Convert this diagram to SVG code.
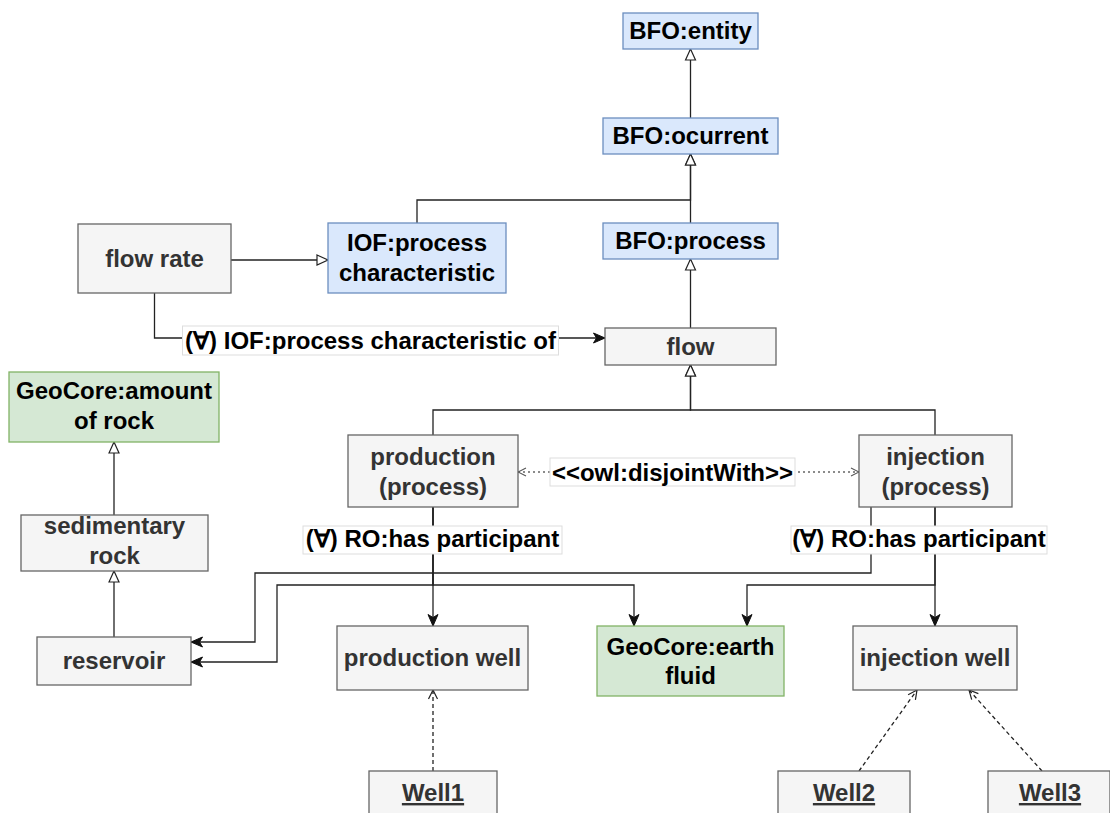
<svg xmlns="http://www.w3.org/2000/svg" width="1110" height="813" viewBox="0 0 1110 813">
<defs>
<style>
text{font-family:"Liberation Sans",Arial,Helvetica,sans-serif;font-weight:bold;font-size:24px;text-anchor:middle}
.blue{fill:#dae8fc;stroke:#6c8ebf;stroke-width:1.3}
.green{fill:#d5e8d4;stroke:#82b366;stroke-width:1.3}
.gray{fill:#f5f5f5;stroke:#666666;stroke-width:1.3}
.dk{fill:#000}
.gt{fill:#333333}
.e{fill:none;stroke:#222;stroke-width:1.3}
.inh{marker-end:url(#tri)}
.arr{marker-end:url(#fa)}
.dash{stroke-dasharray:4 3;marker-end:url(#oa)}
.dot{fill:none;stroke:#666;stroke-width:1.3;stroke-dasharray:2 3;marker-start:url(#oa2);marker-end:url(#oa2)}
.lbl{fill:#fff;stroke:#dddddd;stroke-width:1}
</style>
<marker id="tri" viewBox="0 0 14 14" markerWidth="14" markerHeight="14" refX="12.5" refY="7" orient="auto" markerUnits="userSpaceOnUse"><path d="M1.5,2 L12.5,7 L1.5,12 z" fill="#fff" stroke="#222" stroke-width="1.2"/></marker>
<marker id="fa" viewBox="0 0 14 14" markerWidth="14" markerHeight="14" refX="12.5" refY="7" orient="auto" markerUnits="userSpaceOnUse"><path d="M1,2 L12.5,7 L1,12 L4,7 z" fill="#111" stroke="#111" stroke-width="1"/></marker>
<marker id="oa" viewBox="0 0 12 12" markerWidth="12" markerHeight="12" refX="11" refY="6" orient="auto" markerUnits="userSpaceOnUse"><path d="M2,1.5 L11,6 L2,10.5" fill="none" stroke="#222" stroke-width="1.2"/></marker>
<marker id="oa2" viewBox="0 0 12 12" markerWidth="12" markerHeight="12" refX="11" refY="6" orient="auto-start-reverse" markerUnits="userSpaceOnUse"><path d="M3,2 L11,6 L3,10" fill="none" stroke="#555" stroke-width="1.1"/></marker>
</defs>
<rect width="1110" height="813" fill="#fff"/>
<g id="connectors">
<path class="e inh" d="M690.5,118 V49"/>
<path class="e inh" d="M690.5,223 V154"/>
<path class="e inh" d="M417,223 V200 H690.5 V154"/>
<path class="e inh" d="M690.5,328 V259"/>
<path class="e inh" d="M231,260 H328"/>
<path class="e arr" d="M154.5,293 V338 H605"/>
<path class="e inh" d="M433,435 V410 H690.5 V365"/>
<path class="e inh" d="M935,435 V410 H690.5 V365"/>
<path class="dot" d="M518,472 H859"/>
<path class="e arr" d="M433,507 V626"/>
<path class="e arr" d="M433,507 V585 H634 V626"/>
<path class="e arr" d="M433,507 V585 H277 V662 H191"/>
<path class="e arr" d="M871,507 V573 H255 V642 H191"/>
<path class="e arr" d="M935,507 V585 H747 V626"/>
<path class="e arr" d="M935,507 V626"/>
<path class="e inh" d="M114,515 V442"/>
<path class="e inh" d="M114,637 V571"/>
<path class="e dash" d="M433,771 V690"/>
<path class="e dash" d="M859,771 L917,690"/>
<path class="e dash" d="M1042,771 L969,690"/>
<g id="edge-labels">
<rect class="lbl" x="182.5" y="326" width="376" height="29"/>
<text class="dk" x="370.5" y="348.5">(∀) IOF:process characteristic of</text>
<rect class="lbl" x="550" y="458" width="245" height="28"/>
<text class="dk" x="672.5" y="481">&lt;&lt;owl:disjointWith&gt;&gt;</text>
<rect class="lbl" x="303" y="526" width="259" height="28"/>
<text class="dk" x="432.5" y="547">(∀) RO:has participant</text>
<rect class="lbl" x="791" y="526" width="256" height="28"/>
<text class="dk" x="919" y="547">(∀) RO:has participant</text>
</g>
</g>
<g id="entity"><rect class="blue" x="623" y="13" width="135" height="36"/><text class="dk" x="690.5" y="39">BFO:entity</text></g>
<g id="ocurrent"><rect class="blue" x="603" y="118" width="175" height="36"/><text class="dk" x="690.5" y="144">BFO:ocurrent</text></g>
<g id="process"><rect class="blue" x="603" y="223" width="175" height="36"/><text class="dk" x="690.5" y="249">BFO:process</text></g>
<g id="iof-pc"><rect class="blue" x="328" y="223" width="178" height="70"/><text class="dk" x="417" y="251">IOF:process</text><text class="dk" x="417" y="280.5">characteristic</text></g>
<g id="flow-rate"><rect class="gray" x="78" y="224" width="153" height="69"/><text class="gt" x="154.5" y="267">flow rate</text></g>
<g id="flow"><rect class="gray" x="605" y="328" width="171" height="37"/><text class="gt" x="690.5" y="354.5">flow</text></g>
<g id="amount-of-rock"><rect class="green" x="9" y="372" width="210" height="70"/><text class="dk" x="114" y="399">GeoCore:amount</text><text class="dk" x="114" y="429">of rock</text></g>
<g id="sedimentary-rock"><rect class="gray" x="21" y="515" width="187" height="56"/><text class="gt" x="114.5" y="534">sedimentary</text><text class="gt" x="114.5" y="564">rock</text></g>
<g id="reservoir"><rect class="gray" x="37" y="637" width="154" height="48"/><text class="gt" x="114" y="669">reservoir</text></g>
<g id="production"><rect class="gray" x="348" y="435" width="170" height="72"/><text class="gt" x="433" y="464.5">production</text><text class="gt" x="433" y="495">(process)</text></g>
<g id="injection"><rect class="gray" x="859" y="435" width="153" height="72"/><text class="gt" x="935.5" y="464.5">injection</text><text class="gt" x="935.5" y="495">(process)</text></g>
<g id="production-well"><rect class="gray" x="337" y="626" width="191" height="64"/><text class="gt" x="432.5" y="666">production well</text></g>
<g id="earth-fluid"><rect class="green" x="597" y="626" width="187" height="70"/><text class="dk" x="690.5" y="654.5">GeoCore:earth</text><text class="dk" x="690.5" y="684">fluid</text></g>
<g id="injection-well"><rect class="gray" x="853" y="626" width="164" height="64"/><text class="gt" x="935" y="666">injection well</text></g>
<g id="well1"><rect class="gray" x="369" y="771" width="128" height="60"/><text class="gt" x="433" y="801" text-decoration="underline">Well1</text></g>
<g id="well2"><rect class="gray" x="778" y="771" width="132" height="60"/><text class="gt" x="844" y="801" text-decoration="underline">Well2</text></g>
<g id="well3"><rect class="gray" x="988" y="771" width="122" height="60"/><text class="gt" x="1050" y="801" text-decoration="underline">Well3</text></g>
</svg>
